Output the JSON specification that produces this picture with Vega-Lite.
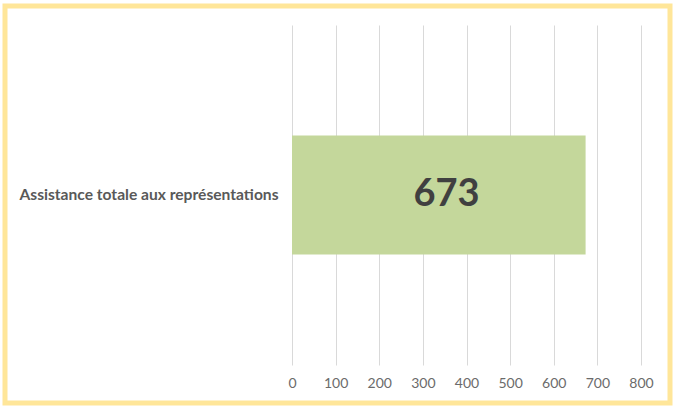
{
  "$schema": "https://vega.github.io/schema/vega-lite/v6.json",
  "autosize": "none",
  "width": 665,
  "height": 397,
  "padding": {"left": 5, "top": 6, "right": 3, "bottom": 3},
  "background": "white",
  "config": {
    "view": {"stroke": "#FFE699", "strokeWidth": 5, "fill": "white"},
    "font": "Lato"
  },
  "data": {"values": [{"categorie": "Assistance totale aux représentations", "valeur": 673}]},
  "encoding": {
    "y": {
      "field": "categorie",
      "type": "nominal",
      "scale": {"range": [19, 359], "paddingInner": 0.65, "paddingOuter": 0.325},
      "axis": {
        "title": null,
        "domain": false,
        "ticks": false,
        "labelPadding": 0,
        "offset": -273,
        "labelFont": "Lato",
        "labelFontSize": 15.6,
        "labelFontWeight": "bold",
        "labelColor": "#595959",
        "labelLimit": 320
      }
    },
    "x": {
      "field": "valeur",
      "type": "quantitative",
      "scale": {"domain": [0, 800], "range": [287, 636], "nice": false},
      "axis": {
        "orient": "top",
        "title": null,
        "values": [0, 100, 200, 300, 400, 500, 600, 700, 800],
        "domain": false,
        "ticks": false,
        "grid": true,
        "gridColor": "#D9D9D9",
        "gridWidth": 1,
        "labelFlush": false,
        "labelPadding": -370,
        "labelBaseline": "top",
        "labelFont": "Lato",
        "labelFontSize": 14,
        "labelColor": "#6b6b6b"
      }
    }
  },
  "layer": [
    {"mark": {"type": "bar", "color": "#C4D79B"}},
    {
      "mark": {"type": "text", "align": "right", "baseline": "middle", "dx": -106, "font": "Lato", "fontSize": 38, "fontWeight": "bold", "color": "#404040"},
      "encoding": {"text": {"field": "valeur", "type": "quantitative"}}
    }
  ]
}
